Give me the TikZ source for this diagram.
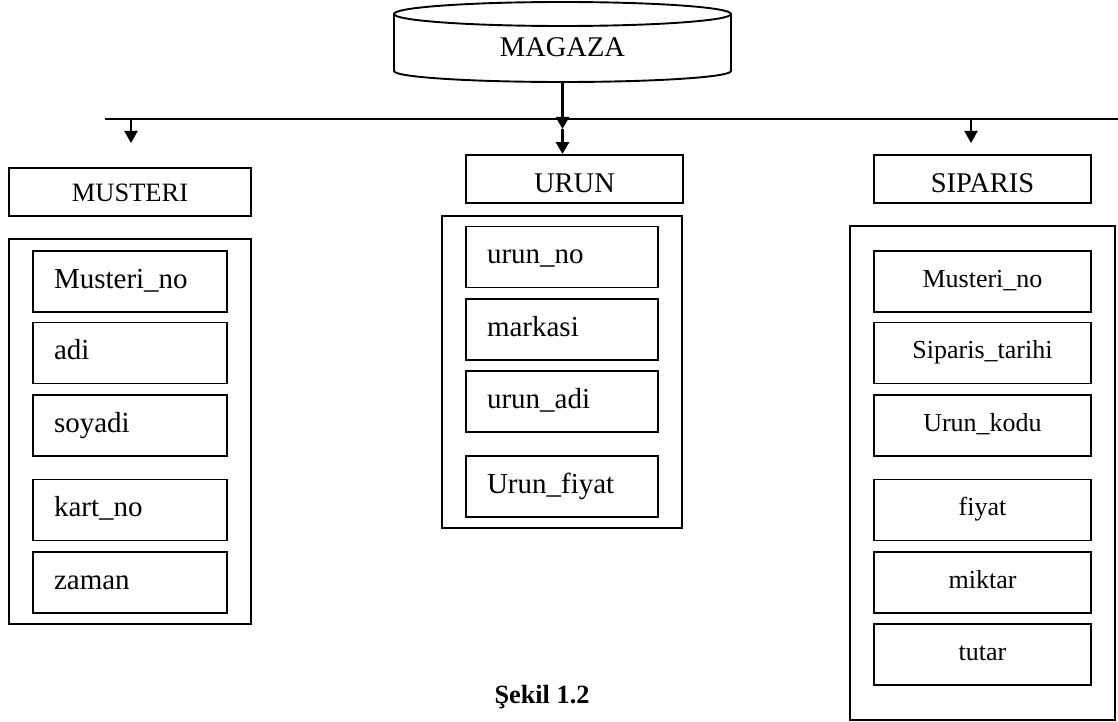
\documentclass[tikz,border=0pt]{standalone}
\usepackage{fontspec}
\setmainfont{Liberation Serif}
\usetikzlibrary{arrows.meta}
\begin{document}
\begin{tikzpicture}[x=1pt,y=-1pt,line width=1.9pt,
  tip/.style={-{Triangle[length=12pt,width=13pt]}},
  titlebox/.style={draw,rectangle,minimum width=217pt,minimum height=48pt,inner sep=0pt,text height=19pt,text depth=0pt,font=\fontsize{28.5}{30}\selectfont},
  container/.style={draw,rectangle,inner sep=0pt},
  lfield/.style={draw,rectangle,minimum height=61pt,inner xsep=21pt,inner ysep=0pt,align=left,text height=20pt,text depth=7pt,font=\fontsize{29}{31}\selectfont},
  cfield/.style={draw,rectangle,minimum width=217pt,minimum height=61pt,inner sep=0pt,text height=19pt,text depth=8pt,font=\fontsize{26}{28}\selectfont}]
\useasboundingbox (0,0) rectangle (1118,722);
% cylinder MAGAZA
\draw[fill=white] (394,14) -- (394,71) arc[start angle=180,end angle=360,x radius=168.5pt,y radius=11pt] -- (731,14);
\draw (562.5,14) ellipse[x radius=168.5pt,y radius=12pt];
\node[font=\fontsize{28.5}{30}\selectfont,anchor=base,inner sep=0pt] (magaza) at (562.5,57) {MAGAZA};
\coordinate (cylbot) at (562.5,82);
% bus
\coordinate (busL) at (105,119);
\coordinate (busR) at (1118,119);
\draw (busL) -- (busR);
\coordinate (busM) at (562.5,129);
\coordinate (lA) at (131,119);
\coordinate (lB) at (131,143);
\coordinate (rA) at (971,119);
\coordinate (rB) at (971,143);
% titles
\node[titlebox,minimum width=242pt,font=\fontsize{26.5}{28}\selectfont] (musteri) at (130,192) {MUSTERI};
\node[titlebox] (urun) at (574.5,179) {\raisebox{-4.5pt}{URUN}};
\node[titlebox] (siparis) at (982.5,179) {\raisebox{-4.5pt}{SIPARIS}};
% arrows
\draw[tip,line width=2.8pt] (cylbot) -- (busM);
\draw[tip,line width=2.8pt] (busM) -- (busM |- urun.north);
\draw[tip] (lA) -- (lB);
\draw[tip] (rA) -- (rB);
% containers
\node[container,minimum width=242pt,minimum height=385pt] (mc) at (130,431.5) {};
\node[container,minimum width=240pt,minimum height=312pt] (uc) at (562,372) {};
\node[container,minimum width=265pt,minimum height=494pt] (sc) at (982.5,473) {};
% MUSTERI fields
\begin{scope}[every node/.style={lfield,text width=152pt}]
\node (m1) at (130,281.5) {Musteri\_no};
\node (m2) at (130,353) {adi};
\node (m3) at (130,425.5) {soyadi};
\node (m4) at (130,510) {kart\_no};
\node (m5) at (130,582.5) {zaman};
\end{scope}
% URUN fields
\begin{scope}[every node/.style={lfield,text width=150pt}]
\node (u1) at (562,257) {urun\_no};
\node (u2) at (562,329.5) {markasi};
\node (u3) at (562,401.5) {urun\_adi};
\node (u4) at (562,486.5) {Urun\_fiyat};
\end{scope}
% SIPARIS fields
\node[cfield] (s1) at (982.5,281.5) {Musteri\_no};
\node[cfield] (s2) at (982.5,353) {Siparis\_tarihi};
\node[cfield] (s3) at (982.5,425.5) {Urun\_kodu};
\node[cfield] (s4) at (982.5,510) {fiyat};
\node[cfield] (s5) at (982.5,582.5) {miktar};
\node[cfield] (s6) at (982.5,654.5) {tutar};
% caption
\node[font=\fontsize{26.3}{28}\selectfont\bfseries,anchor=base,inner sep=0pt] (cap) at (542,703) {Şekil 1.2};
\end{tikzpicture}
\end{document}
